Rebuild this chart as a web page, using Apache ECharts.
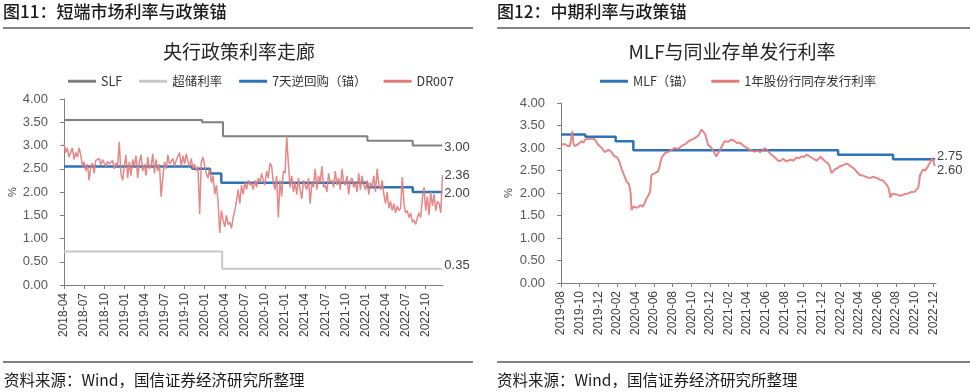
<!DOCTYPE html>
<html><head><meta charset="utf-8">
<script src="https://cdn.jsdelivr.net/npm/echarts@6/dist/echarts.min.js"></script>
<style>html,body{margin:0;padding:0;background:#fff}#c{width:970px;height:392px}</style>
</head><body><div id="c"></div>
<script>
// ---------- Left chart data ----------
const leftStart = '2018-04';
const leftEnd = '2022-12-19';
const leftTicks = ['2018-04','2018-07','2018-10','2019-01','2019-04','2019-07','2019-10','2020-01','2020-04','2020-07','2020-10','2021-01','2021-04','2021-07','2021-10','2022-01','2022-04','2022-07','2022-10'];
const slfDates = ['2018-04-01','2019-12-20','2020-03-24','2022-01-10','2022-08-03','2022-12-16'];
const slfValues = [3.55,3.50,3.20,3.10,3.00,3.00];
const excessDates = ['2018-04-01','2020-03-20','2022-12-16'];
const excessValues = [0.72,0.35,0.35];
const repoDates = ['2018-04-01','2019-11-05','2020-01-26','2020-03-16','2022-01-10','2022-08-03','2022-12-16'];
const repoValues = [2.55,2.50,2.40,2.20,2.10,2.00,2.00];
// DR007, weekly readings grouped by month starting 2018-04
const dr007Weekly = [
[3.04,2.85,2.95,2.75],[2.78,2.95,2.70,2.85],[2.75,2.95,2.80,2.55],[2.65,2.45,2.60,2.25],
[2.55,2.62,2.40,2.68],[2.65,2.72,2.58,2.70],[2.62,2.55,2.66,2.60],[2.58,2.68,2.50,2.62],
[2.55,3.08,2.40,2.25],[2.55,2.80,2.30,2.65],[2.35,2.70,2.55,2.78],[2.30,2.65,2.80,2.45],
[2.60,2.35,2.75,2.50],[2.55,2.82,2.40,2.70],[2.45,2.60,1.90,2.30],[2.65,2.50,2.80,2.60],
[2.62,2.72,2.55,2.68],[2.70,2.85,2.55,2.78],[2.60,2.82,2.65,2.55],[2.72,2.50,2.60,2.45],
[2.55,1.52,2.65,2.75],[2.55,2.40,2.30,2.50],[2.20,2.35,1.95,2.15],[1.80,1.12,1.60,1.40],
[1.25,1.50,1.30,1.35],[1.22,1.45,1.60,1.80],[2.05,1.75,2.15,1.95],[2.20,2.05,2.25,2.15],
[2.20,2.05,2.25,2.10],[2.30,2.20,2.40,2.25],[2.15,2.45,2.30,2.62],[2.55,2.20,2.05,2.35],
[1.45,2.25,1.90,2.45],[2.40,3.20,2.60,2.10],[2.35,2.00,2.20,1.95],[2.30,2.05,1.85,2.25],
[2.15,2.05,2.30,1.75],[2.20,2.10,2.50,2.05],[2.35,2.20,2.55,2.10],[2.15,2.00,2.40,2.20],
[2.25,2.10,2.45,2.15],[2.30,2.05,2.50,2.20],[2.15,2.35,1.95,2.25],[2.30,2.10,2.20,2.00],
[2.40,2.05,2.35,2.15],[2.05,2.25,1.95,2.20],[2.10,2.35,2.00,2.50],[2.15,2.05,2.25,1.95],
[1.75,2.00,1.65,1.80],[1.60,1.75,1.55,1.70],[1.60,1.65,2.32,1.75],[1.55,1.60,1.45,1.55],
[1.35,1.40,1.30,1.45],[1.55,1.45,1.85,2.10],[1.60,1.90,1.50,2.00],[1.70,1.95,1.60,1.80],
[1.75,1.55,2.36]
];

// ---------- Right chart data ----------
const rightStart = '2019-08';
const rightEnd = '2022-12-10';
const rightTicks = ['2019-08','2019-10','2019-12','2020-02','2020-04','2020-06','2020-08','2020-10','2020-12','2021-02','2021-04','2021-06','2021-08','2021-10','2021-12','2022-02','2022-04','2022-06','2022-08','2022-10','2022-12'];
const mlfDates = ['2019-08-01','2019-10-20','2020-01-28','2020-03-25','2022-01-25','2022-07-22','2022-12-07'];
const mlfValues = [3.30,3.25,3.15,2.95,2.85,2.75,2.75];
const cdDates = ['2019-08-01','2019-08-14','2019-08-22','2019-08-30','2019-09-05','2019-09-08','2019-09-11','2019-09-16','2019-09-27','2019-10-07','2019-10-14','2019-10-19','2019-10-24','2019-11-01','2019-11-10','2019-11-16','2019-11-20','2019-12-01','2019-12-07','2019-12-13','2019-12-22','2019-12-28','2020-01-04','2020-01-13','2020-01-19','2020-01-25','2020-02-01','2020-02-05','2020-02-09','2020-02-15','2020-02-21','2020-02-27','2020-03-02','2020-03-07','2020-03-10','2020-03-13','2020-03-16','2020-03-19','2020-03-25','2020-04-01','2020-04-04','2020-04-10','2020-04-16','2020-04-25','2020-05-01','2020-05-07','2020-05-13','2020-05-19','2020-05-23','2020-06-04','2020-06-10','2020-06-14','2020-06-19','2020-06-25','2020-07-07','2020-07-22','2020-08-07','2020-08-19','2020-08-30','2020-09-10','2020-09-22','2020-10-01','2020-10-13','2020-10-25','2020-11-04','2020-11-10','2020-11-16','2020-11-25','2020-12-04','2020-12-13','2020-12-22','2020-12-28','2021-01-04','2021-01-13','2021-01-19','2021-02-01','2021-02-09','2021-02-18','2021-02-26','2021-03-07','2021-03-13','2021-03-22','2021-03-28','2021-04-10','2021-04-16','2021-04-25','2021-05-04','2021-05-13','2021-05-22','2021-05-28','2021-06-04','2021-06-13','2021-06-22','2021-07-01','2021-07-08','2021-07-16','2021-07-22','2021-07-28','2021-08-07','2021-08-16','2021-08-25','2021-09-01','2021-09-10','2021-09-19','2021-09-26','2021-10-04','2021-10-13','2021-10-22','2021-10-28','2021-11-07','2021-11-16','2021-11-22','2021-11-28','2021-12-04','2021-12-13','2021-12-22','2021-12-28','2022-01-03','2022-01-07','2022-01-13','2022-01-22','2022-01-30','2022-02-07','2022-02-15','2022-02-23','2022-03-01','2022-03-10','2022-03-19','2022-03-28','2022-04-04','2022-04-13','2022-04-20','2022-04-28','2022-05-07','2022-05-16','2022-05-22','2022-06-01','2022-06-10','2022-06-19','2022-06-25','2022-07-01','2022-07-07','2022-07-13','2022-07-18','2022-07-22','2022-08-01','2022-08-07','2022-08-16','2022-08-25','2022-09-01','2022-09-10','2022-09-19','2022-09-25','2022-10-01','2022-10-07','2022-10-13','2022-10-19','2022-10-28','2022-11-04','2022-11-10','2022-11-19','2022-11-25','2022-11-28','2022-12-01','2022-12-04','2022-12-07'];
const cdValues = [3.07,3.09,3.05,3.04,3.05,3.37,3.10,3.04,3.09,3.15,3.12,3.19,3.22,3.20,3.21,3.17,3.19,3.07,3.03,3.00,2.91,2.94,2.96,2.92,2.88,2.81,2.80,2.78,2.70,2.55,2.44,2.40,2.26,2.30,2.20,2.11,2.00,1.62,1.70,1.68,1.72,1.68,1.73,1.70,1.78,1.88,1.95,2.03,2.40,2.44,2.42,2.48,2.60,2.78,2.89,2.93,3.00,2.98,3.04,3.08,3.15,3.18,3.22,3.28,3.41,3.36,3.30,3.07,3.02,2.93,2.81,2.85,2.96,3.08,3.15,3.14,3.19,3.16,3.11,3.12,3.09,3.04,3.00,2.96,2.98,2.92,2.94,2.91,2.95,3.00,2.96,2.89,2.84,2.79,2.74,2.70,2.73,2.76,2.70,2.73,2.74,2.72,2.79,2.77,2.81,2.80,2.85,2.82,2.78,2.75,2.72,2.76,2.81,2.76,2.70,2.66,2.59,2.44,2.48,2.52,2.55,2.59,2.61,2.64,2.65,2.63,2.57,2.52,2.45,2.40,2.39,2.37,2.35,2.33,2.36,2.39,2.33,2.29,2.28,2.26,2.18,2.11,1.90,1.98,1.96,1.97,1.99,1.94,1.96,1.98,1.99,2.02,2.05,2.03,2.07,2.12,2.40,2.52,2.50,2.55,2.66,2.70,2.78,2.72,2.63,2.60];

const yTicks = [0,0.5,1,1.5,2,2.5,3,3.5,4];

// ---------- helpers ----------
function monthIndex(s, base) {
  const p = s.split('-').map(Number), b = base.split('-').map(Number);
  const d = p[2] || 1;
  const dim = new Date(p[0], p[1], 0).getDate();
  return (p[0]-b[0])*12 + (p[1]-b[1]) + (d-1)/dim;
}
const zip = (dates, vals, base) => dates.map((d,i)=>[monthIndex(d, base), vals[i]]);
const dr007Data = [];
dr007Weekly.forEach((arr, i) => arr.forEach((v, k) => dr007Data.push([i + k/4, v])));

const leftTickVals = leftTicks.map(t => monthIndex(t, leftStart));
const rightTickVals = rightTicks.map(t => monthIndex(t, rightStart));
const labelFor = (ticks, base) => v => { const i = ticks.findIndex(t => Math.abs(monthIndex(t, base)-v) < 1e-6); return i >= 0 ? ticks[i] : ''; };

const CJK = '"Noto Sans CJK SC", sans-serif';
const NUM = '"Liberation Sans", Arial, sans-serif';
const BLUE = '#2e74b5', RED = '#e27b7b';

function xAxisCfg(gi, max, tickVals, fmt) {
  return {type:'value', gridIndex:gi, min:0, max:max,
    axisLine:{show:true, lineStyle:{color:'#808080', width:1}},
    axisTick:{show:true, customValues:tickVals, length:4, lineStyle:{color:'#808080'}},
    axisLabel:{customValues:tickVals, rotate:90, fontSize:12, margin:8, color:'#404040', fontFamily:NUM, formatter:fmt},
    splitLine:{show:false}};
}
function yAxisCfg(gi, nameGap) {
  return {type:'value', gridIndex:gi, min:0, max:4, interval:0.5,
    name:'%', nameLocation:'middle', nameGap:nameGap, nameRotate:90,
    nameTextStyle:{fontSize:11, color:'#404040', fontFamily:NUM},
    axisLine:{show:true, lineStyle:{color:'#808080', width:1}},
    axisTick:{show:true, length:4, lineStyle:{color:'#808080'}},
    axisLabel:{fontSize:13, margin:16, color:'#595959', fontFamily:NUM, formatter:v=>v.toFixed(2)},
    splitLine:{show:false}};
}
const endLbl = (off) => ({show:true, formatter:p=>p.value[1].toFixed(2), color:'#404040', fontSize:13, fontFamily:NUM, distance:2, offset:off||[0,0]});

const chart = echarts.init(document.getElementById('c'), null, {renderer:'canvas'});
chart.setOption({
  animation:false,
  backgroundColor:'#fff',
  grid:[{left:64, top:99, width:379, height:186}, {left:561, top:103, width:375, height:180}],
  xAxis:[xAxisCfg(0, monthIndex(leftEnd, leftStart), leftTickVals, labelFor(leftTicks, leftStart)),
         xAxisCfg(1, monthIndex(rightEnd, rightStart), rightTickVals, labelFor(rightTicks, rightStart))],
  yAxis:[yAxisCfg(0, 44), yAxisCfg(1, 47)],
  legend:[
    {data:['SLF','超储利率','7天逆回购（锚）','DR007'], left:63, top:70, icon:'rect', itemWidth:28, itemHeight:3, itemGap:17,
     textStyle:{fontSize:12.5, color:'#333', fontFamily:CJK}},
    {data:['MLF（锚）','1年股份行同存发行利率'], left:595, top:70, icon:'rect', itemWidth:28, itemHeight:3, itemGap:17,
     textStyle:{fontSize:12.5, color:'#333', fontFamily:CJK}}
  ],
  series:[
    {name:'SLF', type:'line', xAxisIndex:0, yAxisIndex:0, step:'end', symbol:'none', data:zip(slfDates, slfValues, leftStart),
     lineStyle:{color:'#808080', width:2}, itemStyle:{color:'#808080'}, endLabel:endLbl([0,2])},
    {name:'超储利率', type:'line', xAxisIndex:0, yAxisIndex:0, step:'end', symbol:'none', data:zip(excessDates, excessValues, leftStart),
     lineStyle:{color:'#c8c8c8', width:2}, itemStyle:{color:'#c8c8c8'}, endLabel:endLbl([0,-3])},
    {name:'7天逆回购（锚）', type:'line', xAxisIndex:0, yAxisIndex:0, step:'end', symbol:'none', data:zip(repoDates, repoValues, leftStart),
     lineStyle:{color:BLUE, width:2.5}, itemStyle:{color:BLUE}, endLabel:endLbl([0,1])},
    {name:'DR007', type:'line', xAxisIndex:0, yAxisIndex:0, symbol:'none', data:dr007Data,
     lineStyle:{color:RED, width:1.5, opacity:0.9}, itemStyle:{color:RED}, endLabel:endLbl([0,0])},
    {name:'MLF（锚）', type:'line', xAxisIndex:1, yAxisIndex:1, step:'end', symbol:'none', data:zip(mlfDates, mlfValues, rightStart),
     lineStyle:{color:BLUE, width:2.5}, itemStyle:{color:BLUE}, endLabel:endLbl([0,-3])},
    {name:'1年股份行同存发行利率', type:'line', xAxisIndex:1, yAxisIndex:1, symbol:'none', data:zip(cdDates, cdValues, rightStart),
     lineStyle:{color:RED, width:2, opacity:0.9}, itemStyle:{color:RED}, endLabel:endLbl([0,4])}
  ],
  graphic:[
    {type:'text', x:3, y:12, style:{text:'图11：短端市场利率与政策锚', font:'500 17px '+CJK, fill:'#1a1a1a', textVerticalAlign:'middle'}},
    {type:'text', x:497, y:12, style:{text:'图12：中期利率与政策锚', font:'500 17px '+CJK, fill:'#1a1a1a', textVerticalAlign:'middle'}},
    {type:'line', shape:{x1:3, y1:28, x2:473, y2:28}, style:{stroke:'#595959', lineWidth:1.5}},
    {type:'line', shape:{x1:497, y1:28, x2:970, y2:28}, style:{stroke:'#595959', lineWidth:1.5}},
    {type:'text', x:239, y:52, style:{text:'央行政策利率走廊', font:'19px '+CJK, fill:'#262626', textAlign:'center', textVerticalAlign:'middle'}},
    {type:'text', x:732, y:52, style:{text:'MLF与同业存单发行利率', font:'19px '+CJK, fill:'#262626', textAlign:'center', textVerticalAlign:'middle'}},
    {type:'line', shape:{x1:3, y1:362, x2:473, y2:362}, style:{stroke:'#595959', lineWidth:1.5}},
    {type:'line', shape:{x1:497, y1:362, x2:970, y2:362}, style:{stroke:'#595959', lineWidth:1.5}},
    {type:'text', x:4, y:380, style:{text:'资料来源：Wind，国信证券经济研究所整理', font:'15.5px '+CJK, fill:'#1a1a1a', textVerticalAlign:'middle'}},
    {type:'text', x:497, y:380, style:{text:'资料来源：Wind，国信证券经济研究所整理', font:'15.5px '+CJK, fill:'#1a1a1a', textVerticalAlign:'middle'}}
  ]
});
</script></body></html>
